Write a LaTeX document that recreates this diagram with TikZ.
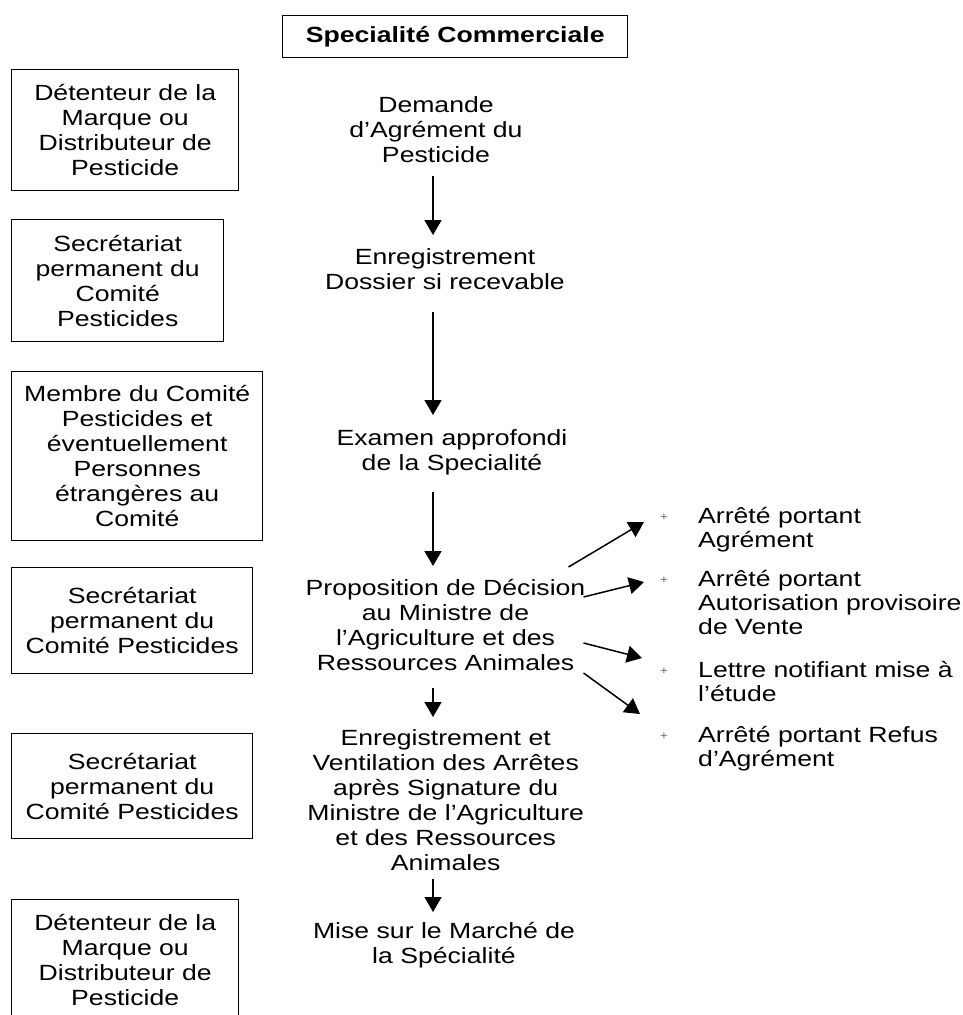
\documentclass[tikz,border=0pt]{standalone}
\usepackage{fontspec}
\setmainfont{Liberation Sans}[FakeStretch=1.21]
\usetikzlibrary{arrows.meta}
\begin{document}
\begin{tikzpicture}[x=1pt,y=-1pt,
  every node/.style={font=\fontsize{22}{25}\selectfont, inner sep=0pt},
  lbox/.style={draw, line width=1.4pt, align=center, anchor=north west},
  ctext/.style={align=center, anchor=north},
  rtext/.style={align=left, anchor=north west, font=\fontsize{22}{24}\selectfont},
  plus/.style={text=black!60, font=\fontsize{11}{12}\selectfont},
  arr/.style={line width=1.5pt, -{Triangle[width=17pt,length=15pt]}}
]
\useasboundingbox (0,0) rectangle (962,1015);
\fill[white] (0,0) rectangle (962,1015);
\clip (0,0) rectangle (962,1015);

% title
\node[draw, line width=1.4pt, minimum width=345pt, minimum height=42pt, anchor=north west,
  font=\bfseries\fontsize{22}{25}\selectfont] (title) at (282,15) {Specialité Commerciale};

% left boxes
\node[lbox, text width=227pt, minimum height=121pt] (b1) at (11,69)
  {Détenteur de la\\Marque ou\\Distributeur de\\Pesticide};
\node[lbox, text width=212pt, minimum height=122pt] (b2) at (11,219)
  {Secrétariat\\permanent du\\Comité\\Pesticides};
\node[lbox, text width=251pt, minimum height=169pt] (b3) at (11,371)
  {Membre du Comité\\Pesticides et\\éventuellement\\Personnes\\étrangères au\\Comité};
\node[lbox, text width=241pt, minimum height=106pt] (b4) at (11,567)
  {Secrétariat\\permanent du\\Comité Pesticides};
\node[lbox, text width=241pt, minimum height=105pt] (b5) at (11,733)
  {Secrétariat\\permanent du\\Comité Pesticides};
\node[lbox, text width=227pt, minimum height=121pt] (b6) at (11,899)
  {Détenteur de la\\Marque ou\\Distributeur de\\Pesticide};

% centre column
\node[ctext] (dem) at (436,96) {Demande\\d’Agrément du\\Pesticide};
\node[ctext] (enr) at (445,248) {Enregistrement\\Dossier si recevable};
\node[ctext] (exa) at (452,429) {Examen approfondi\\de la Specialité};
\node[ctext] (prop) at (445.5,579) {Proposition de Décision\\au Ministre de\\l’Agriculture et des\\Ressources Animales};
\node[ctext] (enr2) at (445.7,729) {Enregistrement et\\Ventilation des Arrêtes\\après Signature du\\Ministre de l’Agriculture\\et des Ressources\\Animales};
\node[ctext] (mise) at (444,922) {Mise sur le Marché de\\la Spécialité};

\draw[arr] ([shift={(-3,13)}]dem.south) -- ([shift={(-12,-13)}]enr.north);
\draw[arr] ([shift={(-12,22)}]enr.south) -- ([shift={(-19,-14)}]exa.north);
\draw[arr] ([shift={(-19,17)}]exa.south) -- ([shift={(-12.5,-13)}]prop.north);
\draw[arr] ([shift={(-12.5,17)}]prop.south) -- ([shift={(-12.7,-12)}]enr2.north);
\draw[arr] ([shift={(-12.7,8)}]enr2.south) -- ([shift={(-11,-10)}]mise.north);

% right outcomes
\node[rtext] (r1) at (698,507) {Arrêté portant\\Agrément};
\node[rtext] (r2) at (698,570) {Arrêté portant\\Autorisation provisoire\\de Vente};
\node[rtext] (r3) at (698,661) {Lettre notifiant mise à\\l’étude};
\node[rtext] (r4) at (698,726) {Arrêté portant Refus\\d’Agrément};
\node[plus] (p1) at (664,517) {+};
\node[plus] (p2) at (664,580) {+};
\node[plus] (p3) at (664,671) {+};
\node[plus] (p4) at (664,736) {+};

\draw[arr] ([shift={(-17,-12)}]prop.north east) -- ([shift={(-20,5)}]p1.center);
\draw[arr] ([shift={(-2,18)}]prop.north east) -- ([shift={(-20,2)}]p2.center);
\draw[arr] ([shift={(-2,64)}]prop.north east) -- ([shift={(-22,-13)}]p3.center);
\draw[arr] ([shift={(-2,94)}]prop.north east) -- ([shift={(-24,-22)}]p4.center);
\end{tikzpicture}
\end{document}
